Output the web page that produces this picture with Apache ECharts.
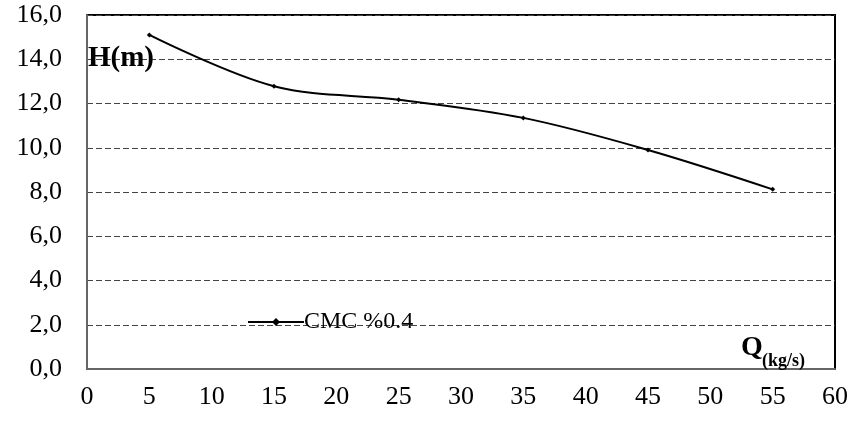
<!DOCTYPE html>
<html>
<head>
<meta charset="utf-8">
<script src="https://cdn.jsdelivr.net/npm/echarts@6/dist/echarts.min.js"></script>
<style>
  html, body { margin: 0; padding: 0; background: #fff; }
  #chart { width: 854px; height: 423px; }
</style>
</head>
<body>
<div id="chart"></div>
<script>
// Pump head H (m) against mass flow Q (kg/s) for the CMC solution
const flowQ = [5, 15, 25, 35, 45, 55];
const headH = [15.1, 12.78, 12.17, 11.35, 9.9, 8.12];
const seriesName = 'CMC %0.4';

const serif = '"Liberation Serif", "Times New Roman", serif';
const chart = echarts.init(document.getElementById('chart'));

chart.setOption({
  animation: false,
  grid: {
    left: 87, right: 19, top: 15, bottom: 54,
    show: true, borderColor: '#000', borderWidth: 2, backgroundColor: '#fff'
  },
  legend: {
    left: 242, top: 305,
    itemWidth: 56, itemHeight: 10,
    itemGap: 0,
    textStyle: { fontFamily: serif, fontSize: 24, color: '#000', padding: [0, 0, 0, -5] },
    data: [seriesName]
  },
  xAxis: {
    type: 'value', min: 0, max: 60, interval: 5,
    axisLine: { show: true, lineStyle: { color: '#666', width: 2 } },
    axisTick: { show: false },
    splitLine: { show: false },
    axisLabel: { fontFamily: serif, fontSize: 26, color: '#000', margin: 15 }
  },
  yAxis: {
    type: 'value', min: 0, max: 16, interval: 2,
    axisLine: { show: true, lineStyle: { color: '#666', width: 2 } },
    axisTick: { show: false },
    splitLine: { show: true, lineStyle: { color: '#444', type: [6, 3], width: 1 } },
    axisLabel: {
      fontFamily: serif, fontSize: 26, color: '#000', margin: 25,
      formatter: v => v.toFixed(1).replace('.', ',')
    }
  },
  series: [{
    name: seriesName,
    type: 'line',
    data: flowQ.map((q, i) => [q, headH[i]]),
    smooth: 0.35,
    symbol: 'diamond',
    symbolSize: 5,
    lineStyle: { color: '#000', width: 2 },
    itemStyle: { color: '#000' },
    z: 3
  }],
  graphic: [
    {
      type: 'text', left: 88, top: 44, z: 10,
      style: { text: 'H(m)', font: 'bold 29px ' + serif, fill: '#000' }
    },
    {
      type: 'text', left: 741, top: 334, z: 10,
      style: { text: 'Q', font: 'bold 28px ' + serif, fill: '#000' }
    },
    {
      type: 'text', left: 762, top: 352, z: 10,
      style: { text: '(kg/s)', font: 'bold 18px ' + serif, fill: '#000' }
    }
  ]
});
</script>
</body>
</html>
